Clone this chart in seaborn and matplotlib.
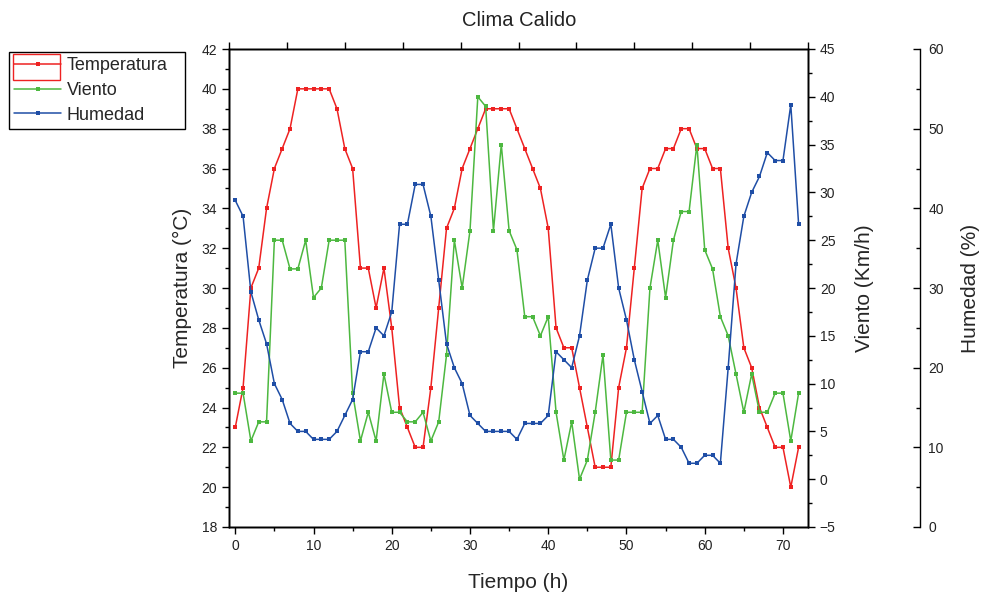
import matplotlib
matplotlib.use("Agg")
import matplotlib.pyplot as plt
import seaborn as sns
import pandas as pd
from matplotlib.ticker import MultipleLocator
from matplotlib.lines import Line2D
from matplotlib.patches import Rectangle

# ---------------- data ----------------
hours = list(range(73))
temperatura = [23, 25, 30, 31, 34, 36, 37, 38, 40, 40,
               40, 40, 40, 39, 37, 36, 31, 31, 29, 31,
               28, 24, 23, 22, 22, 25, 29, 33, 34, 36,
               37, 38, 39, 39, 39, 39, 38, 37, 36, 35,
               33, 28, 27, 27, 25, 23, 21, 21, 21, 25,
               27, 31, 35, 36, 36, 37, 37, 38, 38, 37,
               37, 36, 36, 32, 30, 27, 26, 24, 23, 22,
               22, 20, 22]
viento = [9, 9, 4, 6, 6, 25, 25, 22, 22, 25,
          19, 20, 25, 25, 25, 9, 4, 7, 4, 11,
          7, 7, 6, 6, 7, 4, 6, 13, 25, 20,
          26, 40, 39, 26, 35, 26, 24, 17, 17, 15,
          17, 7, 2, 6, 0, 2, 7, 13, 2, 2,
          7, 7, 7, 20, 25, 19, 25, 28, 28, 35,
          24, 22, 17, 15, 11, 7, 11, 7, 7, 9,
          9, 4, 9]
humedad = [41, 39, 29.5, 26, 23, 18, 16, 13, 12, 12,
           11, 11, 11, 12, 14, 16, 22, 22, 25, 24,
           27, 38, 38, 43, 43, 39, 31, 23, 20, 18,
           14, 13, 12, 12, 12, 12, 11, 13, 13, 13,
           14, 22, 21, 20, 24, 31, 35, 35, 38, 30,
           26, 21, 17, 13, 14, 11, 11, 10, 8, 8,
           9, 9, 8, 20, 33, 39, 42, 44, 47, 46,
           46, 53, 38]
series_names = ["Temperatura", "Viento", "Humedad"]
title = "Clima Calido"
xlabel = "Tiempo (h)"
ylabels = ["Temperatura (°C)", "Viento (Km/h)", "Humedad (%)"]

df = pd.DataFrame({"hora": hours, "Temperatura": temperatura,
                   "Viento": viento, "Humedad": humedad})

RED = "#EE2222"
GREEN = "#4DB840"
BLUE = "#1F4EA6"

sns.set_theme(style="ticks")
plt.rcParams["font.family"] = ["Liberation Sans", "DejaVu Sans"]
plt.rcParams["axes.edgecolor"] = "black"
plt.rcParams["axes.linewidth"] = 1.0

W, H = 982, 594
fig = plt.figure(figsize=(W / 100, H / 100), dpi=100)
L, R, T, B = 229, 808, 49, 527
ax = fig.add_axes([L / W, 1 - B / H, (R - L) / W, (B - T) / H])
ax2 = ax.twinx()
ax3 = ax.twinx()
axt = ax.twiny()

line_kw = dict(marker="s", markersize=3.0, markeredgewidth=0, linewidth=1.1, legend=False)
sns.lineplot(data=df, x="hora", y="Temperatura", ax=ax, color=RED, **line_kw)
sns.lineplot(data=df, x="hora", y="Viento", ax=ax2, color=GREEN, **line_kw)
sns.lineplot(data=df, x="hora", y="Humedad", ax=ax3, color=BLUE, **line_kw)

# limits & ticks
ax.set_xlim(-0.8, 73.2)
ax.set_ylim(18, 42)
ax2.set_ylim(-5, 45)
ax3.set_ylim(0, 60)
axt.set_xlim(0, 10)

ax.xaxis.set_major_locator(MultipleLocator(10))
ax.xaxis.set_minor_locator(MultipleLocator(5))
ax.yaxis.set_major_locator(MultipleLocator(2))
ax.yaxis.set_minor_locator(MultipleLocator(1))
ax2.yaxis.set_major_locator(MultipleLocator(5))
ax2.yaxis.set_minor_locator(MultipleLocator(2.5))
ax3.yaxis.set_major_locator(MultipleLocator(10))
ax3.yaxis.set_minor_locator(MultipleLocator(5))
axt.xaxis.set_major_locator(MultipleLocator(1))

tick_kw = dict(labelsize=10, labelcolor="#222222", color="black", width=1.0)
for a in (ax, ax2):
    a.tick_params(which="major", direction="out", length=5, **tick_kw)
    a.tick_params(which="minor", direction="out", length=3, color="black", width=1.0)
ax3.tick_params(axis="y", which="major", direction="in", length=5, pad=6, **tick_kw)
ax3.tick_params(axis="y", which="minor", direction="in", length=3, color="black", width=1.0)
axt.tick_params(axis="x", which="major", direction="out", length=5, labeltop=False,
                color="black", width=1.0)

ax3.spines["right"].set_position(("axes", (920 - L) / (R - L)))
for s in ("left", "top", "bottom"):
    ax3.spines[s].set_visible(False)
for a in (ax, ax2, ax3, axt):
    for s in a.spines.values():
        s.set_color("black")
        s.set_linewidth(1.0)

# labels
ax.set_xlabel(xlabel, fontsize=15, va="center")
ax.xaxis.set_label_coords(0.5, (B - 582) / (B - T))
ax.set_ylabel(ylabels[0], fontsize=15, va="center")
ax.yaxis.set_label_coords((182 - L) / (R - L), 0.5)
ax2.set_ylabel(ylabels[1], fontsize=15)
ax2.yaxis.label.set_va("center")
ax2.yaxis.set_label_coords((865 - L) / (R - L), 0.5)
ax3.set_ylabel(ylabels[2], fontsize=15)
ax3.yaxis.label.set_va("center")
ax3.yaxis.set_label_coords((970 - L) / (R - L), 0.5)
axt.set_xlabel("")

fig.text(519 / W, 1 - 20 / H, title, ha="center", va="center", fontsize=14.5, color="#222222")

# legend
handles = [Line2D([], [], color=c, marker="s", markersize=3.0, markeredgewidth=0, linewidth=1.1)
           for c in (RED, GREEN, BLUE)]
leg = fig.legend(handles, series_names, loc="upper left",
                 bbox_to_anchor=(9 / W, 1 - 130 / H, 176 / W, 78 / H), mode="expand",
                 frameon=True, fancybox=False, edgecolor="black", framealpha=1,
                 fontsize=13, handlelength=2.6, handletextpad=0.3, borderpad=0.3,
                 labelspacing=0.42, borderaxespad=0, numpoints=1)
leg.get_frame().set_linewidth(1.0)
fig.patches.append(Rectangle((12.5 / W, 1 - 79.5 / H), 47.5 / W, 25.5 / H,
                             transform=fig.transFigure, fill=False, edgecolor=RED,
                             linewidth=1.0, zorder=10))

fig.savefig("out.png", dpi=100)
